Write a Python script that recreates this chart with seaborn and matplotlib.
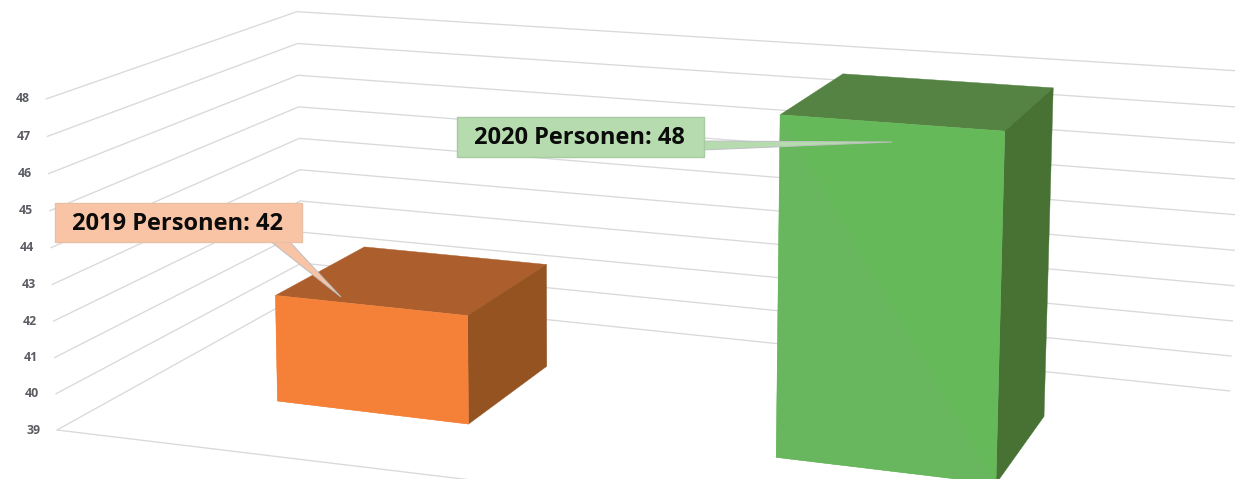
import matplotlib
matplotlib.use("Agg")
import matplotlib.pyplot as plt
import numpy as np
import seaborn as sns
from matplotlib.patches import Polygon, Rectangle

# Chart values
years = ["2019", "2020"]
personen = [42, 48]
axis_ticks = [39, 40, 41, 42, 43, 44, 45, 46, 47, 48]
label_word = "Personen"

# Colours of each bar: front, top, side, label fill, label edge
front_colors = ["#F58139", "#65B958"]
front_alt_colors = ["#F58139", "#68B65D"]
top_colors = ["#AC5F2C", "#548343"]
side_colors = ["#945321", "#487234"]
label_fills = ["#F8C4A5", "#B6DBAF"]
label_edges = ["#E9BFA6", "#A9CBA3"]

sns.set_theme(style="white")
plt.rcParams["font.family"] = ["Open Sans", "DejaVu Sans"]

# Camera: homogeneous projection of (x, depth, height) onto the figure in pixels
CAMERA = np.array([
    [919.0, 299.0, -12.0, 57.0],
    [58.8, -83.5, -333.0, 430.0],
    [-0.1418, 0.1785, -0.0202, 1.0],
])
BASE, TOP = axis_ticks[0], axis_ticks[-1]

# Footprint of each bar on the floor
bar_left = [0.152, 0.649]
bar_right = [0.352, 0.849]
bar_front = [0.30, 0.32]
bar_back = [0.69, 0.72]


def project(x, depth, value):
    height = (value - BASE) / (TOP - BASE)
    u, v, w = CAMERA @ np.array([x, depth, height, 1.0])
    return u / w, v / w


fig = plt.figure(figsize=(12.35, 4.79), dpi=100, facecolor="white")
ax = fig.add_axes([0, 0, 1, 1])
ax.set_xlim(0, 1235)
ax.set_ylim(479, 0)
ax.axis("off")
sns.despine(ax=ax, left=True, bottom=True)

# Wall and floor gridlines
GRID = "#D8D9DC"
for tick in axis_ticks:
    path = [project(0, 0, tick), project(0, 1, tick), project(1, 1, tick)]
    ax.plot(*zip(*path), color=GRID, lw=0.95, zorder=1, solid_joinstyle="miter")
    ax.annotate(str(tick), project(0, 0, tick), xytext=(-17, 0),
                textcoords="offset points", ha="center", va="center",
                fontsize=8.8, fontweight="bold", color="#5A5C62")
ax.plot(*zip(project(0, 0, BASE), project(1, 0.04, BASE)), color=GRID, lw=0.95, zorder=1)


def face(corners, color, z=3.0, lw=0.3):
    ax.add_patch(Polygon(corners, closed=True, facecolor=color,
                         edgecolor=color if lw else "none", lw=lw, zorder=z))


# The bars, built from their values
for i, value in enumerate(personen):
    x0, x1 = bar_left[i], bar_right[i]
    d0, d1 = bar_front[i], bar_back[i]
    ftl = project(x0, d0, value)
    ftr = project(x1, d0, value)
    fbl = project(x0, d0, BASE)
    fbr = project(x1, d0, BASE)
    btl = project(x0, d1, value)
    btr = project(x1, d1, value)
    bbr = project(x1, d1, BASE)
    face([ftl, ftr, btr, btl], top_colors[i])
    face([ftr, btr, bbr, fbr], side_colors[i])
    face([ftl, ftr, fbr, fbl], front_colors[i])
    # Faint shading on the lower half of the front face
    face([ftl, fbr, fbl], front_alt_colors[i], z=3.1, lw=0)

# Callout boxes with their pointers, in pixels
boxes = [(55, 203, 247, 39), (457, 117, 247, 40)]
tails = [[(270, 241), (289, 241), (341, 297)],
         [(703, 141), (703, 150), (892, 142)]]
for i, (year, value) in enumerate(zip(years, personen)):
    bx, by, bw, bh = boxes[i]
    ax.add_patch(Polygon(tails[i], closed=True, facecolor=label_fills[i],
                         edgecolor="#BDBFC0", lw=0.7, zorder=4))
    ax.add_patch(Rectangle((bx, by), bw, bh, facecolor=label_fills[i],
                           edgecolor=label_edges[i], lw=1.0, zorder=5))
    ax.text(bx + bw / 2 - 1, by + bh / 2 + 1.5, f"{year} {label_word}: {value}",
            ha="center", va="center", fontsize=17, fontweight="bold",
            color="#0B0B0B", zorder=6)

fig.savefig("out.png", dpi=100)
